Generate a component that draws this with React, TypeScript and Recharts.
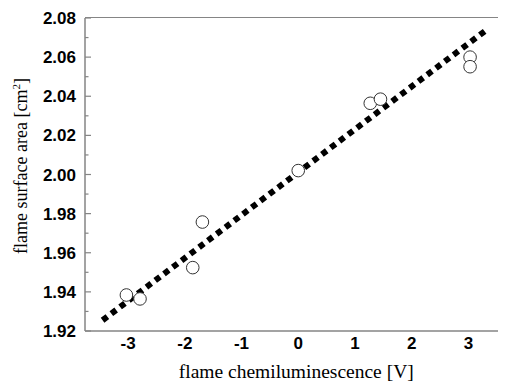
import { ComposedChart, Line, Scatter, XAxis, YAxis } from "recharts";

// measured points
const chemi = [-3.03, -2.79, -1.86, -1.69, 0.0, 1.27, 1.45, 3.03, 3.03];
const area = [1.9384, 1.9364, 1.9524, 1.9757, 2.002, 2.0364, 2.0385, 2.06, 2.0551];

// linear fit, drawn as a thick dotted line
const fitX = [-3.45, 3.31];
const fitY = [1.9255, 2.0737];

const xMajor = [-3, -2, -1, 0, 1, 2, 3];
const xMinor = [-3.5, -2.5, -1.5, -0.5, 0.5, 1.5, 2.5, 3.5];
const yMajor = [1.92, 1.94, 1.96, 1.98, 2.0, 2.02, 2.04, 2.06, 2.08];
const yMinor = [1.93, 1.95, 1.97, 1.99, 2.01, 2.03, 2.05, 2.07];

const xDomain: [number, number] = [-3.76, 3.69];
const yDomain: [number, number] = [1.92, 2.08];

const points = chemi.map((x, i) => ({ x, y: area[i] }));
const fit = fitX.map((x, i) => ({ x, y: fitY[i] }));

const W = 500;
const H = 381;
const MARGIN = { top: 10, right: 0.5, bottom: 0, left: 0 };
const Y_AXIS_W = 77;
const X_AXIS_H = 58;

const AXIS = "#858585";
const tickFont = {
  fontFamily: "Liberation Sans, Arial, sans-serif",
  fontWeight: 700,
  fontSize: 17,
  fill: "#000",
};
const labelFont = "Liberation Serif, Times New Roman, serif";
const noText = { fill: "none", fontSize: 1 };
const blank = () => "";
// mirror axes only carry the inward tick marks; they need a tiny non-zero size to render
const THIN = 0.01;

const Ring = (p: any) => (
  <circle cx={p.cx} cy={p.cy} r={6.3} fill="#fff" stroke="#333" strokeWidth={1} />
);

const XLabel = (p: any) => {
  const vb = p.viewBox;
  return (
    <text
      x={vb.x + vb.width / 2}
      y={vb.y + 47}
      textAnchor="middle"
      fontFamily={labelFont}
      fontSize={19.5}
      fill="#000"
    >
      flame chemiluminescence [V]
    </text>
  );
};

const YLabel = (p: any) => {
  const vb = p.viewBox;
  const cx = vb.x + 19;
  const cy = 166 - 8;
  return (
    <text
      x={cx}
      y={cy}
      textAnchor="middle"
      transform={`rotate(-90, ${cx}, ${cy})`}
      fontFamily={labelFont}
      fontSize={18}
      fill="#000"
    >
      flame surface area [cm
      <tspan dy={-7} fontSize={11}>2</tspan>
      <tspan dy={7}>]</tspan>
    </text>
  );
};

export default function App() {
  const extraX = (id: string, orient: "top" | "bottom", ticks: number[], size: number) => (
    <XAxis
      key={id}
      xAxisId={id}
      type="number"
      orientation={orient}
      mirror
      height={THIN}
      domain={xDomain}
      allowDataOverflow
      ticks={ticks}
      tick={noText}
      tickFormatter={blank}
      tickSize={size}
      tickLine={{ stroke: AXIS, strokeWidth: 1.2 }}
      axisLine={false}
    />
  );
  const extraY = (id: string, orient: "left" | "right", ticks: number[], size: number) => (
    <YAxis
      key={id}
      yAxisId={id}
      type="number"
      orientation={orient}
      mirror
      width={THIN}
      domain={yDomain}
      allowDataOverflow
      ticks={ticks}
      tick={noText}
      tickFormatter={blank}
      tickSize={size}
      tickLine={{ stroke: AXIS, strokeWidth: 1.2 }}
      axisLine={false}
    />
  );

  const plotX = MARGIN.left + Y_AXIS_W;
  const plotY = MARGIN.top;
  const plotW = W - MARGIN.right - plotX;
  const plotH = H - MARGIN.bottom - X_AXIS_H - plotY;

  return (
    <div style={{ position: "relative", width: 498, height: H, overflow: "hidden" }}>
      <ComposedChart width={W} height={H} margin={MARGIN}>
        <XAxis
          xAxisId="main"
          dataKey="x"
          type="number"
          domain={xDomain}
          allowDataOverflow
          ticks={xMajor}
          tickFormatter={(v: number) => `${v}`}
          height={X_AXIS_H}
          tickSize={6}
          tickMargin={0}
          tickLine={false}
          axisLine={{ stroke: AXIS, strokeWidth: 1.5 }}
          tick={tickFont}
          label={<XLabel />}
        />
        <YAxis
          yAxisId="main"
          type="number"
          domain={yDomain}
          allowDataOverflow
          ticks={yMajor}
          tickFormatter={(v: number) => v.toFixed(2)}
          width={Y_AXIS_W}
          tickSize={9}
          tickMargin={0}
          tickLine={false}
          axisLine={{ stroke: AXIS, strokeWidth: 1.5 }}
          tick={tickFont}
          label={<YLabel />}
        />
        {extraX("bMaj", "bottom", xMajor, 6)}
        {extraX("bMin", "bottom", xMinor, 3.5)}
        {extraX("tMaj", "top", xMajor, 6)}
        {extraX("tMin", "top", xMinor, 3.5)}
        {extraY("lMaj", "left", yMajor, 6)}
        {extraY("lMin", "left", yMinor, 3.5)}
        {extraY("rMaj", "right", yMajor, 6)}
        {extraY("rMin", "right", yMinor, 3.5)}
        <Line
          xAxisId="main"
          yAxisId="main"
          data={fit}
          dataKey="y"
          type="linear"
          stroke="#000"
          strokeWidth={6}
          strokeDasharray="6 5"
          dot={false}
          activeDot={false}
          isAnimationActive={false}
        />
        <Scatter
          xAxisId="main"
          yAxisId="main"
          data={points}
          dataKey="y"
          shape={<Ring />}
          isAnimationActive={false}
        />
      </ComposedChart>
      {/* top edge of the plot frame, laid over the chart */}
      <div
        style={{
          position: "absolute",
          left: plotX,
          top: plotY - 0.75,
          width: plotW,
          height: plotH,
          borderTop: `1.5px solid ${AXIS}`,
          pointerEvents: "none",
        }}
      />
    </div>
  );
}
